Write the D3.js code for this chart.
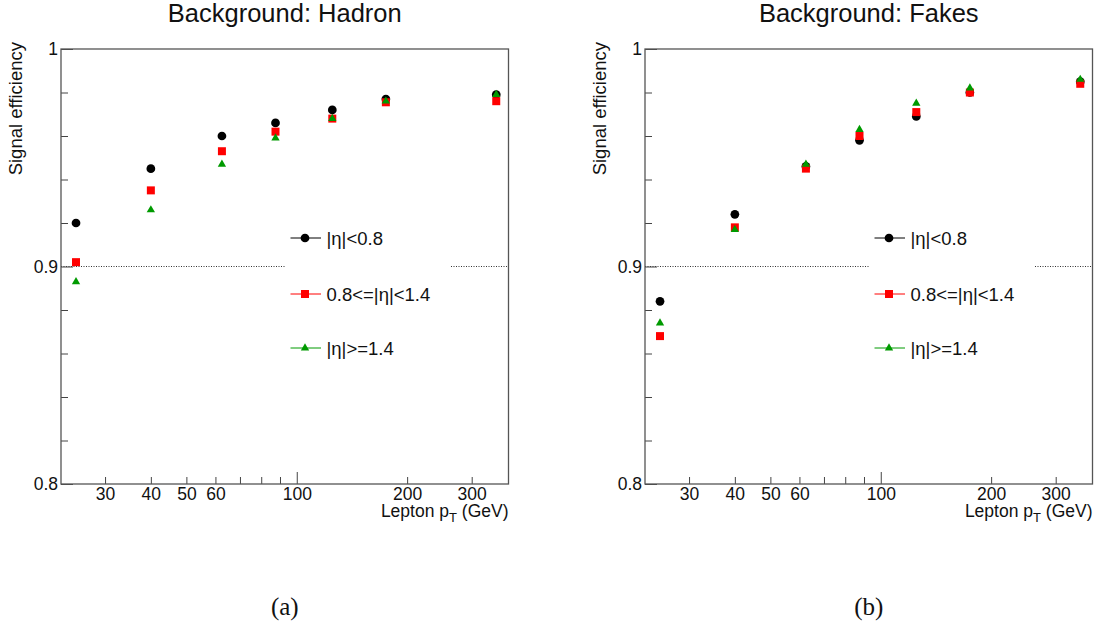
<!DOCTYPE html>
<html>
<head>
<meta charset="utf-8">
<script src="https://cdn.jsdelivr.net/npm/d3@7"></script>
<style>
  body { margin: 0; background: #fff; }
  svg text { font-family: "Liberation Sans", Arial, sans-serif; fill: #111; }
  .caption { font-family: "Liberation Serif", "DejaVu Serif", serif; }
</style>
</head>
<body>
<script>
/*** DATA ***/
/* bin centres, lepton pT (GeV) */
let ptBins = [25, 40, 62.5, 87.5, 125, 175, 350];

let seriesLabels = ["|η|<0.8", "0.8<=|η|<1.4", "|η|>=1.4"];

/* Background: Hadron */
let hadronBarrel  = [0.920, 0.945, 0.960, 0.966, 0.972, 0.977, 0.979];
let hadronOverlap = [0.902, 0.935, 0.953, 0.962, 0.968, 0.9755, 0.976];
let hadronEndcap  = [0.893, 0.926, 0.947, 0.959, 0.968, 0.976, 0.979];

/* Background: Fakes */
let fakesBarrel  = [0.884, 0.924, 0.946, 0.958, 0.969, 0.980, 0.985];
let fakesOverlap = [0.868, 0.918, 0.945, 0.960, 0.971, 0.980, 0.984];
let fakesEndcap  = [0.874, 0.917, 0.947, 0.963, 0.975, 0.982, 0.986];

let panelTitles = ["Background: Hadron", "Background: Fakes"];
let captions = ["(a)", "(b)"];

/* ticks */
let xTicks = [30, 40, 50, 60, 70, 80, 90, 100, 200, 300];
let xTickLabels = [30, 40, 50, 60, 100, 200, 300];
let yTicks = [0.8, 0.82, 0.84, 0.86, 0.88, 0.9, 0.92, 0.94, 0.96, 0.98, 1.0];
let yTickLabels = [0.8, 0.9, 1];

/*** GRAPH ***/
let width = 447.5,
  height = 435,
  marginTop = 49,
  panelLeft = [61, 645];

let x = d3.scaleLog()
  .domain([22.75, 378])
  .range([0, width]);
let y = d3.scaleLinear()
  .domain([0.8, 1])
  .range([height, 0]);

let colors = ["#000000", "#ff0000", "#009a00"];
let symbols = [
  d3.symbol().type(d3.symbolCircle).size(60),
  d3.symbol().type(d3.symbolSquare).size(64),
  d3.symbol().type(d3.symbolTriangle).size(30)
];

let isLabel = (list, d) => list.some(v => Math.abs(v - d) < 1e-9);

let svg = d3.select("body").append("svg")
  .attr("width", 1096)
  .attr("height", 626);

function drawPanel(i, series) {
  let g = svg.append("g")
    .attr("transform", "translate(" + panelLeft[i] + "," + marginTop + ")");

  /* dotted line at 0.9 */
  g.append("line")
    .attr("x1", 0)
    .attr("x2", width)
    .attr("y1", y(0.9))
    .attr("y2", y(0.9))
    .attr("stroke", "#333")
    .attr("stroke-width", 1)
    .attr("stroke-dasharray", "1,1.5");

  /* x axis, ticks pointing inside */
  let xAxis = g.append("g")
    .attr("transform", "translate(0," + height + ")")
    .call(d3.axisBottom(x)
      .tickValues(xTicks)
      .tickSizeInner(-7)
      .tickSizeOuter(0)
      .tickPadding(4)
      .tickFormat(d => isLabel(xTickLabels, d) ? d : ""));
  xAxis.select(".domain").remove();
  xAxis.selectAll(".tick line")
    .attr("stroke", "#444")
    .filter(d => d === 100)
    .attr("y2", -12);
  xAxis.selectAll("text")
    .style("font-size", "17.5px")
    .style("font-family", "Liberation Sans, Arial, sans-serif")
    .attr("fill", "#111");

  /* y axis */
  let yAxis = g.append("g")
    .call(d3.axisLeft(y)
      .tickValues(yTicks)
      .tickSizeInner(-7)
      .tickSizeOuter(0)
      .tickPadding(3)
      .tickFormat(d => isLabel(yTickLabels, d) ? String(+d.toFixed(2)) : ""));
  yAxis.select(".domain").remove();
  yAxis.selectAll(".tick line")
    .attr("stroke", "#444")
    .filter(d => isLabel(yTickLabels, d))
    .attr("x2", 12);
  yAxis.selectAll("text")
    .style("font-size", "17.5px")
    .style("font-family", "Liberation Sans, Arial, sans-serif")
    .attr("fill", "#111");

  /* frame */
  g.append("rect")
    .attr("width", width)
    .attr("height", height)
    .attr("fill", "none")
    .attr("stroke", "#555")
    .attr("stroke-width", 1.3);

  /* legend box hides the dotted line */
  let legend = g.append("g")
    .attr("transform", "translate(225,0)");
  legend.append("rect")
    .attr("y", 166)
    .attr("width", 165)
    .attr("height", 158)
    .attr("fill", "#fff");

  let rows = [189, 245, 299];
  seriesLabels.forEach((label, k) => {
    let row = legend.append("g")
      .attr("transform", "translate(0," + rows[k] + ")");
    row.append("line")
      .attr("x1", 4.5)
      .attr("x2", 35)
      .attr("stroke", colors[k])
      .attr("stroke-width", 1);
    row.append("path")
      .attr("d", symbols[k]())
      .attr("transform", "translate(19,0)")
      .attr("fill", colors[k]);
    row.append("text")
      .attr("x", 40.5)
      .attr("dy", "0.36em")
      .style("font-size", "18.5px")
      .text(label);
  });

  /* points */
  series.forEach((vals, k) => {
    g.selectAll(".dot" + k)
      .data(vals)
      .enter().append("path")
      .attr("class", "dot" + k)
      .attr("d", symbols[k]())
      .attr("transform", (d, j) => "translate(" + x(ptBins[j]) + "," + y(d) + ")")
      .attr("fill", colors[k]);
  });

  /* axis titles */
  let xt = g.append("text")
    .attr("x", width)
    .attr("y", height + 33)
    .attr("text-anchor", "end")
    .style("font-size", "17.5px");
  xt.append("tspan").text("Lepton p");
  xt.append("tspan").attr("dy", 5).style("font-size", "13px").text("T");
  xt.append("tspan").attr("dy", -5).text(" (GeV)");

  g.append("text")
    .attr("transform", "translate(-39,-7) rotate(-90)")
    .attr("text-anchor", "end")
    .style("font-size", "18.5px")
    .text("Signal efficiency");

  /* title */
  svg.append("text")
    .attr("x", panelLeft[i] + width / 2)
    .attr("y", 22)
    .attr("text-anchor", "middle")
    .style("font-size", "25.5px")
    .text(panelTitles[i]);

  /* caption */
  svg.append("text")
    .attr("class", "caption")
    .attr("x", panelLeft[i] + width / 2)
    .attr("y", 615)
    .attr("text-anchor", "middle")
    .style("font-size", "25px")
    .style("font-family", "Liberation Serif, DejaVu Serif, serif")
    .text(captions[i]);
}

drawPanel(0, [hadronBarrel, hadronOverlap, hadronEndcap]);
drawPanel(1, [fakesBarrel, fakesOverlap, fakesEndcap]);
</script>
</body>
</html>
